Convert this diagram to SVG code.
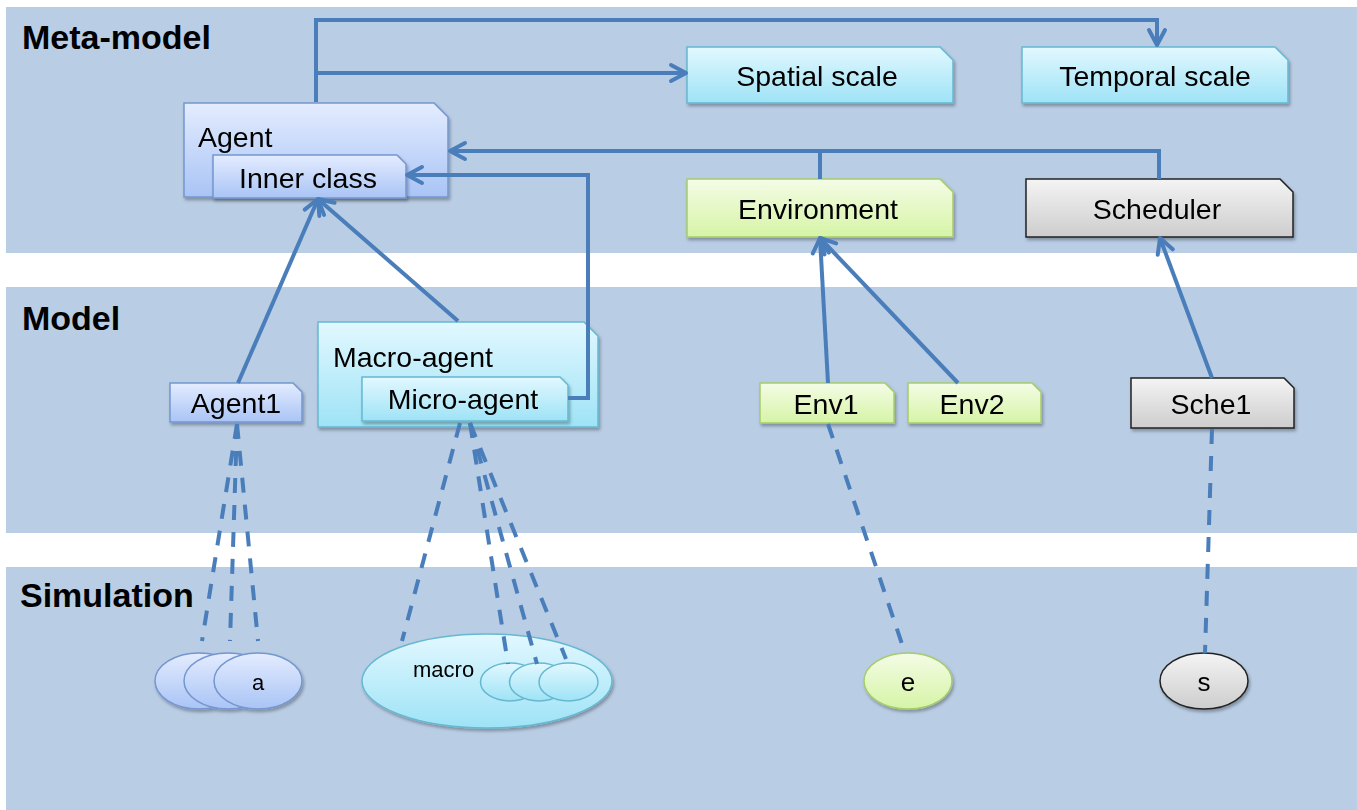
<svg xmlns="http://www.w3.org/2000/svg" width="1357" height="810" viewBox="0 0 1357 810">
<defs>
<style>
.band{fill:#B9CDE5}
.title{font-family:"Liberation Sans",Arial,sans-serif;font-weight:bold;font-size:34px;fill:#000}
.lbl{font-family:"Liberation Sans",Arial,sans-serif;font-size:28.5px;fill:#000}
.mid{text-anchor:middle}
.small{font-family:"Liberation Sans",Arial,sans-serif;font-size:22px;fill:#000}
.inst{font-family:"Liberation Sans",Arial,sans-serif;font-size:26px;fill:#000}
.con{fill:none;stroke:#4A7EBB;stroke-width:4}
.dash{fill:none;stroke:#4A7EBB;stroke-width:4;stroke-dasharray:15 12}
.agent{fill:url(#gAgent);stroke:#7496CF;stroke-width:1.5}
.cyan{fill:url(#gCyan);stroke:#66B8D2;stroke-width:1.5}
.green{fill:url(#gGreen);stroke:#A6CC6C;stroke-width:1.5}
.gray{fill:url(#gGray);stroke:#222;stroke-width:1.5}
</style>
<linearGradient id="gAgent" x1="0" y1="0" x2="0" y2="1"><stop offset="0" stop-color="#E4ECFF"/><stop offset="1" stop-color="#A9C4F5"/></linearGradient>
<linearGradient id="gCyan" x1="0" y1="0" x2="0" y2="1"><stop offset="0" stop-color="#E2F8FF"/><stop offset="1" stop-color="#9EE3F6"/></linearGradient>
<linearGradient id="gGreen" x1="0" y1="0" x2="0" y2="1"><stop offset="0" stop-color="#F4FCE6"/><stop offset="1" stop-color="#D6F4A6"/></linearGradient>
<linearGradient id="gGray" x1="0" y1="0" x2="0" y2="1"><stop offset="0" stop-color="#F4F4F4"/><stop offset="1" stop-color="#CDCDCD"/></linearGradient>
<filter id="sh" x="-10%" y="-10%" width="130%" height="140%"><feDropShadow dx="1.5" dy="2.5" stdDeviation="1.5" flood-color="#000" flood-opacity="0.3"/></filter>
<marker id="arr" viewBox="0 0 22 22" refX="19" refY="11" markerWidth="22" markerHeight="22" markerUnits="userSpaceOnUse" orient="auto">
<path d="M4,3 L19,11 L4,19" fill="none" stroke="#4A7EBB" stroke-width="4" stroke-linecap="round" stroke-linejoin="round"/>
</marker>
</defs>

<g id="bands">
<rect class="band" x="6" y="7" width="1351" height="246"/>
<rect class="band" x="6" y="287" width="1351" height="246"/>
<rect class="band" x="6" y="567" width="1351" height="243"/>
<text class="title" x="22" y="49">Meta-model</text>
<text class="title" x="22" y="330">Model</text>
<text class="title" x="20" y="607">Simulation</text>
</g>

<g id="agent" filter="url(#sh)">
<path class="agent" d="M184,103 H434 L448,117 V197 H184 Z"/>
<text class="lbl" x="198" y="147">Agent</text>
</g>
<g id="inner-class" filter="url(#sh)">
<path class="agent" d="M213,155 H397 L406,164 V198 H213 Z"/>
<text class="lbl mid" x="308" y="188">Inner class</text>
</g>
<g id="spatial-scale" filter="url(#sh)">
<path class="cyan" d="M687,47 H940 L953,60 V103 H687 Z"/>
<text class="lbl mid" x="817" y="86">Spatial scale</text>
</g>
<g id="temporal-scale" filter="url(#sh)">
<path class="cyan" d="M1022,47 H1275 L1288,60 V103 H1022 Z"/>
<text class="lbl mid" x="1155" y="86">Temporal scale</text>
</g>
<g id="environment" filter="url(#sh)">
<path class="green" d="M687,179 H940 L953,192 V237 H687 Z"/>
<text class="lbl mid" x="818" y="219">Environment</text>
</g>
<g id="scheduler" filter="url(#sh)">
<path class="gray" d="M1026,179 H1280 L1293,192 V237 H1026 Z"/>
<text class="lbl mid" x="1157" y="219">Scheduler</text>
</g>

<g id="agent1" filter="url(#sh)">
<path class="agent" d="M170,383 H293 L302,392 V422 H170 Z"/>
<text class="lbl mid" x="236" y="413">Agent1</text>
</g>
<g id="macro-agent" filter="url(#sh)">
<path class="cyan" d="M318,322 H584 L598,336 V427 H318 Z"/>
<text class="lbl" x="333" y="367">Macro-agent</text>
</g>
<g id="micro-agent" filter="url(#sh)">
<path class="cyan" d="M362,377 H560 L568,385 V421 H362 Z"/>
<text class="lbl mid" x="463" y="409">Micro-agent</text>
</g>
<g id="env1" filter="url(#sh)">
<path class="green" d="M760,383 H885 L894,392 V423 H760 Z"/>
<text class="lbl mid" x="826" y="414">Env1</text>
</g>
<g id="env2" filter="url(#sh)">
<path class="green" d="M908,383 H1032 L1041,392 V423 H908 Z"/>
<text class="lbl mid" x="972" y="414">Env2</text>
</g>
<g id="sche1" filter="url(#sh)">
<path class="gray" d="M1131,378 H1284 L1294,388 V428 H1131 Z"/>
<text class="lbl mid" x="1211" y="414">Sche1</text>
</g>

<g id="agent-instances" filter="url(#sh)">
<ellipse class="agent" cx="199" cy="681" rx="44" ry="28"/>
<ellipse class="agent" cx="228" cy="681" rx="44" ry="28"/>
<ellipse class="agent" cx="258" cy="681" rx="44" ry="28"/>
<text class="small mid" x="258" y="690">a</text>
</g>
<g id="macro-instance" filter="url(#sh)">
<ellipse class="cyan" cx="487" cy="681" rx="125" ry="47"/>
<text class="small" x="413" y="677">macro</text>
<ellipse class="cyan" cx="510" cy="682" rx="29.5" ry="19"/>
<ellipse class="cyan" cx="539" cy="682" rx="29.5" ry="19"/>
<ellipse class="cyan" cx="568.5" cy="682" rx="29.5" ry="19"/>
</g>
<g id="env-instance" filter="url(#sh)">
<ellipse class="green" cx="908" cy="681" rx="44" ry="28"/>
<text class="inst mid" x="908" y="691">e</text>
</g>
<g id="sche-instance" filter="url(#sh)">
<ellipse class="gray" cx="1204" cy="681" rx="44" ry="28"/>
<text class="inst mid" x="1204" y="691">s</text>
</g>

<g id="connectors">
<polyline class="con" points="316,102 316,20 1157,20 1157,45" marker-end="url(#arr)"/>
<polyline class="con" points="316,73 686,73" marker-end="url(#arr)"/>
<polyline class="con" points="1159,179 1159,151 450,151" marker-end="url(#arr)"/>
<polyline class="con" points="820,179 820,151"/>
<polyline class="con" points="568,398 588,398 588,175 407,175" marker-end="url(#arr)"/>
<line class="con" x1="238" y1="383" x2="318" y2="199" marker-end="url(#arr)"/>
<line class="con" x1="458" y1="321" x2="318" y2="199" marker-end="url(#arr)"/>
<line class="con" x1="828" y1="383" x2="820" y2="238" marker-end="url(#arr)"/>
<line class="con" x1="958" y1="383" x2="820" y2="238" marker-end="url(#arr)"/>
<line class="con" x1="1212" y1="378" x2="1160" y2="238" marker-end="url(#arr)"/>
<line class="dash" x1="237" y1="424" x2="202" y2="641"/>
<line class="dash" x1="237" y1="424" x2="230" y2="641"/>
<line class="dash" x1="237" y1="424" x2="258" y2="641"/>
<line class="dash" x1="460" y1="423" x2="402" y2="641"/>
<line class="dash" x1="470" y1="423" x2="508" y2="664"/>
<line class="dash" x1="470" y1="423" x2="537" y2="664"/>
<line class="dash" x1="470" y1="423" x2="566" y2="659"/>
<line class="dash" x1="828" y1="424" x2="905" y2="653"/>
<line class="dash" x1="1212" y1="429" x2="1205" y2="653"/>
</g>
</svg>
